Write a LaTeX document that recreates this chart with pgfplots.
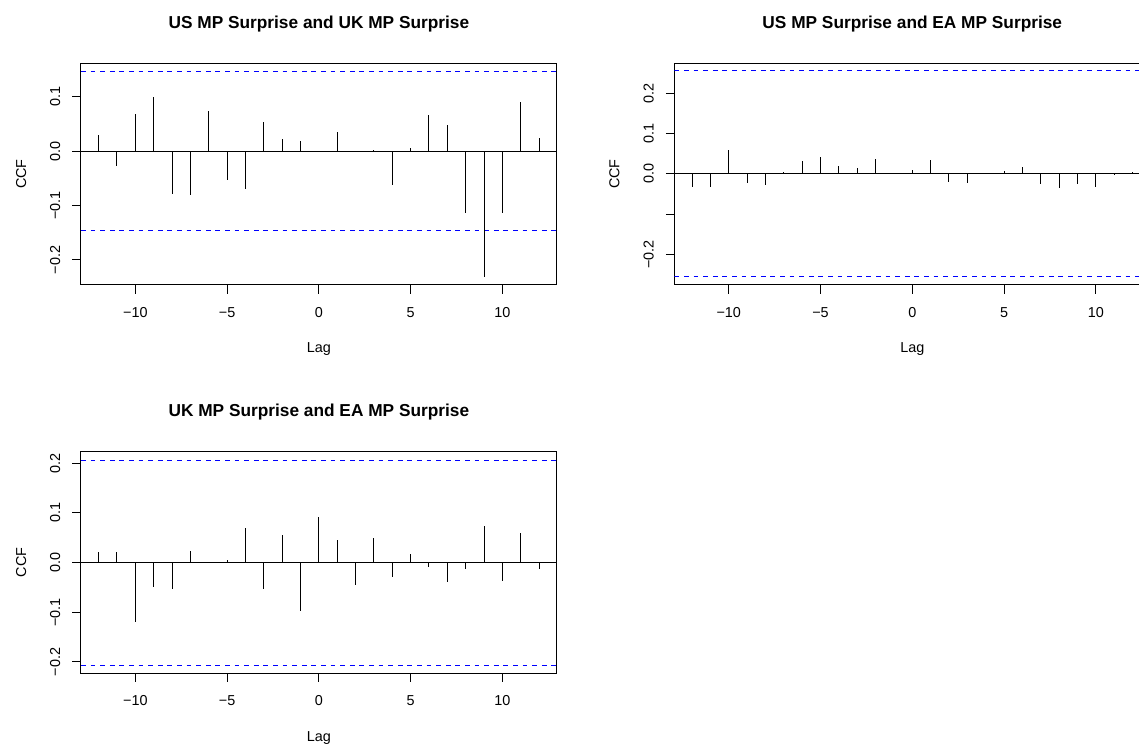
\documentclass[border=0pt]{standalone}
\usepackage{fontspec}
\setmainfont{Liberation Sans}
\usepackage{pgfplots}
\usepackage{pgfplotstable}
\pgfplotsset{compat=1.18}

% Sample cross-correlations at lags -12..12
\pgfplotstableread{
lag ccf
-12  0.029
-11 -0.027
-10  0.068
-9   0.099
-8  -0.079
-7  -0.080
-6   0.073
-5  -0.053
-4  -0.069
-3   0.054
-2   0.023
-1   0.018
0   -0.001
1    0.035
2   -0.002
3    0.002
4   -0.062
5    0.006
6    0.067
7    0.048
8   -0.113
9   -0.231
10  -0.113
11   0.091
12   0.024
}\usuk

\pgfplotstableread{
lag ccf
-12 -0.032
-11 -0.032
-10  0.060
-9  -0.022
-8  -0.027
-7   0.006
-6   0.033
-5   0.042
-4   0.020
-3   0.015
-2   0.037
-1   0.002
0    0.010
1    0.034
2   -0.021
3   -0.022
4    0.002
5    0.007
6    0.017
7   -0.024
8   -0.034
9   -0.025
10  -0.032
11  -0.002
12   0.004
}\usea

\pgfplotstableread{
lag ccf
-12  0.022
-11  0.022
-10 -0.119
-9  -0.050
-8  -0.054
-7   0.024
-6   0.000
-5   0.005
-4   0.069
-3  -0.053
-2   0.055
-1  -0.097
0    0.091
1    0.046
2   -0.046
3    0.049
4   -0.030
5    0.017
6   -0.009
7   -0.039
8   -0.013
9    0.073
10  -0.038
11   0.060
12  -0.012
}\ukea

\definecolor{ciblue}{RGB}{0,0,255}
\newcommand{\labfont}{\fontsize{10.8}{13}\selectfont}

\pgfplotsset{
  ccfpanel/.style={
    scale only axis,
    width=356.8pt, height=166.3pt,
    anchor=south west,
    xmin=-12.96, xmax=12.96,
    axis line style={line width=0.75pt},
    tick align=outside,
    tick pos=left,
    major tick length=6.45pt,
    tick style={black, line width=0.75pt},
    xtick={-10,-5,0,5,10},
    xticklabels={−10,−5,0,5,10},
    tick label style={font=\labfont},
    xticklabel style={anchor=base, yshift=-18.05pt},
    yticklabel style={xshift=-9.15pt, rotate=90, anchor=base},
    title style={at={(axis description cs:0.5,1)}, anchor=base, yshift=20.25pt,
                 font=\bfseries\fontsize{12.96}{15}\selectfont},
    xlabel={Lag},
    xlabel style={at={(axis description cs:0.5,0)}, anchor=base, yshift=-51pt, font=\labfont},
    ylabel={CCF},
    ylabel style={at={(axis description cs:-0.1156,0.5)}, anchor=base, font=\labfont},
    clip=true,
  },
  lagcomb/.style={ycomb, draw=black, line width=0.75pt, mark=none},
  zeroline/.style={draw=black, line width=0.75pt, mark=none},
  ciline/.style={draw=ciblue, line width=0.75pt, mark=none, dash pattern=on 3.6pt off 3.6pt},
}

\begin{document}
\begin{tikzpicture}
\useasboundingbox (0pt,0pt) rectangle (854.25pt,558.75pt);
\clip (0pt,0pt) rectangle (854.25pt,558.75pt);

% US and UK
\begin{axis}[ccfpanel, at={(60.75pt,345pt)},
  ymin=-0.2461, ymax=0.1616,
  ytick={-0.2,-0.1,0,0.1}, yticklabels={−0.2,−0.1,0.0,0.1},
  title={US MP Surprise and UK MP Surprise}]
  \addplot[zeroline] coordinates {(-12.96,0) (12.96,0)};
  \addplot[ciline] coordinates {(-12.96,-0.1465) (12.96,-0.1465)};
  \addplot[ciline] coordinates {(-12.96,0.1465) (12.96,0.1465)};
  \addplot[lagcomb] table[x=lag, y=ccf] {\usuk};
\end{axis}

% US and EA
\begin{axis}[ccfpanel, at={(505.8pt,345pt)},
  ymin=-0.2765, ymax=0.2755,
  ytick={-0.2,-0.1,0,0.1,0.2}, yticklabels={−0.2,,0.0,0.1,0.2},
  title={US MP Surprise and EA MP Surprise}]
  \addplot[zeroline] coordinates {(-12.96,0) (12.96,0)};
  \addplot[ciline] coordinates {(-12.96,-0.2565) (12.96,-0.2565)};
  \addplot[ciline] coordinates {(-12.96,0.2565) (12.96,0.2565)};
  \addplot[lagcomb] table[x=lag, y=ccf] {\usea};
\end{axis}

% UK and EA
\begin{axis}[ccfpanel, at={(60.75pt,53.8pt)}, height=166.0pt,
  ymin=-0.2230, ymax=0.2230,
  ytick={-0.2,-0.1,0,0.1,0.2}, yticklabels={−0.2,−0.1,0.0,0.1,0.2},
  title={UK MP Surprise and EA MP Surprise}]
  \addplot[zeroline] coordinates {(-12.96,0) (12.96,0)};
  \addplot[ciline] coordinates {(-12.96,-0.2065) (12.96,-0.2065)};
  \addplot[ciline] coordinates {(-12.96,0.2065) (12.96,0.2065)};
  \addplot[lagcomb] table[x=lag, y=ccf] {\ukea};
\end{axis}
\end{tikzpicture}
\end{document}
